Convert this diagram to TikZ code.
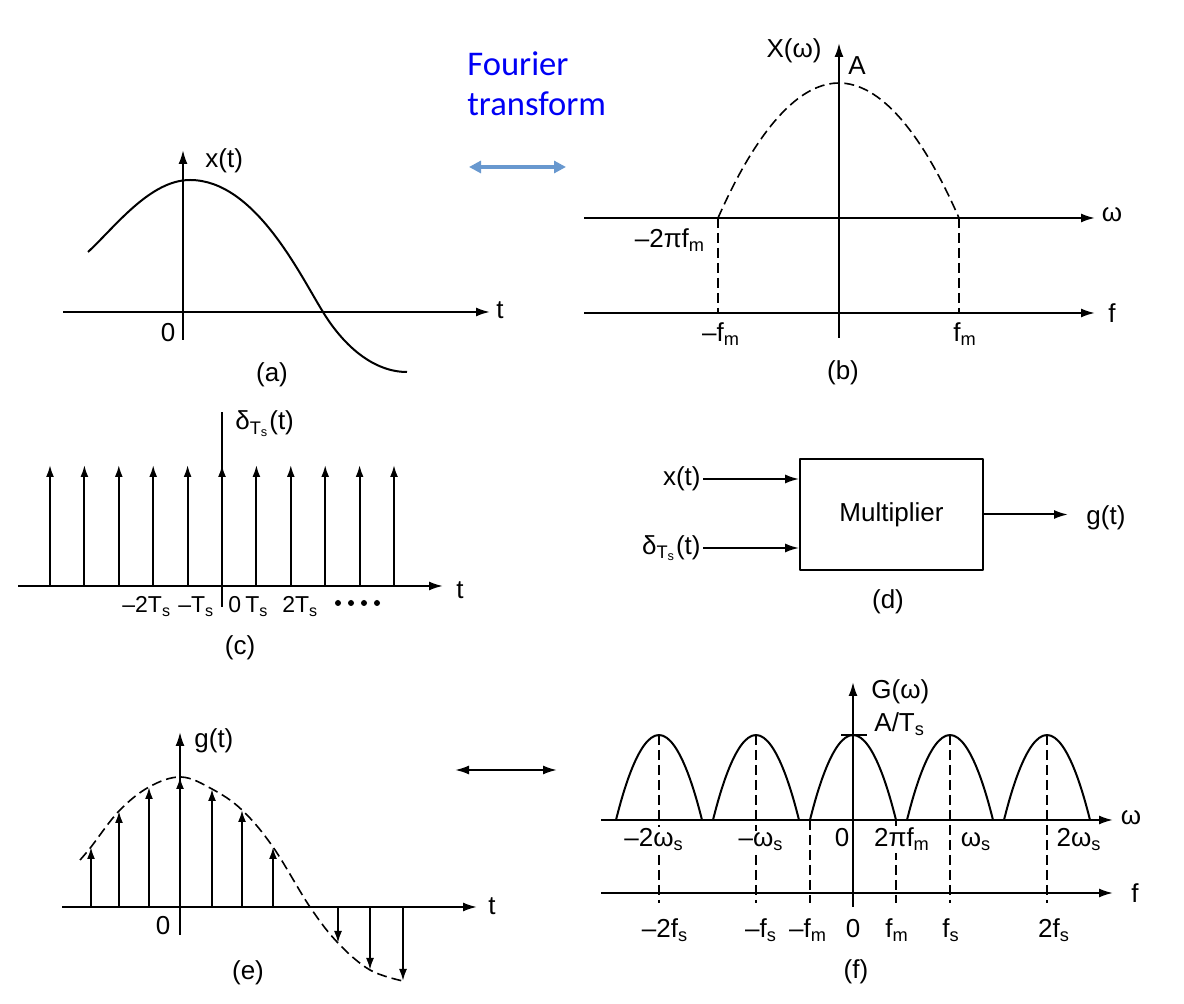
\documentclass[tikz,border=0pt]{standalone}
\usepackage{fontspec}
\setmainfont{Liberation Sans}
\newfontfamily\ftfont{Carlito}
\usetikzlibrary{arrows.meta}
\definecolor{ftblue}{RGB}{0,0,245}
\definecolor{arrblue}{RGB}{104,152,207}
\newcommand\lblfont{\fontsize{13}{15}\selectfont}
\newcommand\tickfont{\fontsize{11.5}{14}\selectfont}
\newcommand\sub[1]{\textsubscript{#1}}
\tikzset{
  >={Latex[length=7pt,width=4.5pt]},
  ax/.style={line width=1pt,->},
  imp/.style={line width=1pt,-{Latex[length=6pt,width=4pt]}},
  crv/.style={line width=1pt},
  dsh/.style={line width=0.8pt,dash pattern=on 5pt off 2.5pt},
  lbl/.style={font=\lblfont,inner sep=1pt},
  tlbl/.style={font=\tickfont,inner sep=1pt,anchor=base west},
  wlbl/.style={lbl,fill=white},
  every picture/.style={line join=round},
}
\begin{document}
\begin{tikzpicture}[x=0.5pt,y=-0.5pt]
\useasboundingbox (0,0) rectangle (1184,1004);
% (a) signal
\draw[ax] (63,312) -- (490,312);
\draw[ax] (183,340) -- (183,150);
\draw[crv] (88,252) .. controls (115,227) and (150,180) .. (190,180)
  .. controls (255,180) and (300,275) .. (323,312)
  .. controls (345,348) and (375,372) .. (407,372);
\node[lbl] (ta) at (500,310) {t};
\node[lbl,anchor=base west] (xa) at (203,168) {x(t)};
\node[lbl,anchor=base] (za) at (168,342) {0};
\node[lbl] (capa) at (272,375) {(a)};
% Fourier transform arrow
\node[font=\ftfont\fontsize{17.3}{20}\selectfont,text=ftblue,align=left,anchor=north west,inner sep=0pt] (ft) at (467,51) {Fourier\\transform};
\coordinate (ftl) at (469,167); \coordinate (ftr) at (566,167);
\draw[arrblue,line width=1.6pt,{Triangle[length=6pt,width=6pt]}-{Triangle[length=6pt,width=6pt]}] (ftl) -- (ftr);
% (b) spectrum
\draw[ax] (584,218) -- (1095,218);
\draw[ax] (584,313) -- (1095,313);
\draw[ax] (839,338) -- (839,43);
\draw[dsh] (718,218) parabola bend (839,83) (959,218);
\draw[dsh] (718,218) -- (718,313); \draw[dsh] (959,218) -- (959,313);
\node[lbl,anchor=base] (Xw) at (794,58) {X(ω)};
\node[lbl,anchor=base] (Ab) at (857,75) {A};
\node[lbl] (wb) at (1112,215) {ω};
\node[lbl] (fb) at (1112,313) {f};
\node[lbl,anchor=base] (wmb) at (670,248) {–2πf\sub{m}};
\node[lbl,anchor=base] (fmnb) at (721,342) {–f\sub{m}};
\node[lbl,anchor=base] (fmb) at (965,342) {f\sub{m}};
\node[lbl] (capb) at (843,373) {(b)};
% (c) impulse train
\draw[ax] (18,586) -- (443,586);
\draw[line width=1pt] (222,607) -- (222,412);
\foreach \k in {-5,...,5}
  \draw[imp] ({222+34.4*\k},586) -- ({222+34.4*\k},465);
\node[lbl,anchor=base west] (dc) at (233,430) {δ\sub{T\sub{s}}(t)};
\node[lbl] (tc) at (460,590) {t};
\node[tlbl] (m2T) at (120,613) {–2T\sub{s}};
\node[tlbl] (m1T) at (176,613) {–T\sub{s}};
\node[tlbl] (zc) at (226,613) {0};
\node[tlbl] (p1T) at (243,613) {T\sub{s}};
\node[tlbl] (p2T) at (280,613) {2T\sub{s}};
\foreach \k in {0,...,3}
  \fill (338+13*\k,603) circle (1.5pt);
\node[lbl] (capc) at (240,648) {(c)};
% (d) multiplier
\node[draw,line width=0.85pt,minimum width=91.5pt,minimum height=55.5pt,inner sep=0pt,font=\lblfont] (mult) at (891.5,514.5) {Multiplier};
\node[lbl,anchor=east] (xin) at (703,479) {x(t)};
\node[lbl,anchor=east] (din) at (703,548) {δ\sub{T\sub{s}}(t)};
\node[lbl,anchor=west] (gout) at (1084,518) {g(t)};
\draw[line width=1pt,->] (xin.east) -- (xin.east -| mult.west);
\draw[line width=1pt,->] (din.east) -- (din.east -| mult.west);
\draw[line width=1pt,->,shorten >=8pt] (mult.east) -- (mult.east -| gout.west);
\node[lbl] (capd) at (888,602) {(d)};
% (e) sampled signal
\draw[ax] (62,907) -- (477,907);
\draw[ax] (180,935) -- (180,732);
\draw[dsh] plot[smooth,tension=0.6] coordinates {(80,860) (91,847) (119,811) (149,787) (181,777) (212,789) (242,810) (273,847) (310,907) (338,943) (370,970) (403,981)};
\foreach \x/\y in {91/847,119/811,149/787,180/777,212/789,242/810,273/847,338/943,370/970,403/981}
  \draw[imp] (\x,907) -- (\x,\y);
\node[lbl] (te) at (492,906) {t};
\node[lbl,anchor=base west] (ge) at (192,748) {g(t)};
\node[lbl,anchor=base] (ze) at (163,935) {0};
\node[lbl] (cape) at (248,973) {(e)};
\coordinate (eql) at (455,770); \coordinate (eqr) at (557,770);
\draw[line width=1pt,<->] (eql) -- (eqr);
% (f) sampled spectrum
\draw[ax] (601,820) -- (1113,820);
\draw[ax] (601,893) -- (1113,893);
\draw[ax] (853,907) -- (853,682);
\foreach \c in {659,756,853,950,1047}
  \draw[crv] (\c-43,820) parabola bend (\c,735) (\c+43,820);
\draw[line width=1pt] (841,735) -- (867,735);
\foreach \c in {659,756,950,1047}
  \draw[dsh] (\c,735) -- (\c,903);
\draw[dsh] (810,820) -- (810,903); \draw[dsh] (896,820) -- (896,903);
\node[wlbl,anchor=base] (w2n) at (654,847) {–2ω\sub{s}};
\node[wlbl,anchor=base] (w1n) at (761,847) {–ω\sub{s}};
\node[lbl,anchor=base] (wz) at (842,847) {0};
\node[wlbl,anchor=base] (wfm) at (902,847) {2πf\sub{m}};
\node[lbl,anchor=base] (w1p) at (976,847) {ω\sub{s}};
\node[lbl,anchor=base] (w2p) at (1079,847) {2ω\sub{s}};
\node[lbl] (wf) at (1131,818) {ω};
\node[lbl] (ff) at (1135,893) {f};
\node[lbl,anchor=base] (f2n) at (665,938) {–2f\sub{s}};
\node[lbl,anchor=base] (f1n) at (761,938) {–f\sub{s}};
\node[lbl,anchor=base] (fmn) at (808,938) {–f\sub{m}};
\node[lbl,anchor=base] (fz) at (853,938) {0};
\node[lbl,anchor=base] (fmp) at (897,938) {f\sub{m}};
\node[lbl,anchor=base] (f1p) at (951,938) {f\sub{s}};
\node[lbl,anchor=base] (f2p) at (1054,938) {2f\sub{s}};
\node[lbl,anchor=base west] (Gw) at (869,699) {G(ω)};
\node[lbl,anchor=base west] (AT) at (872,732) {A/T\sub{s}};
\node[lbl] (capf) at (856,972) {(f)};
\end{tikzpicture}
\end{document}
